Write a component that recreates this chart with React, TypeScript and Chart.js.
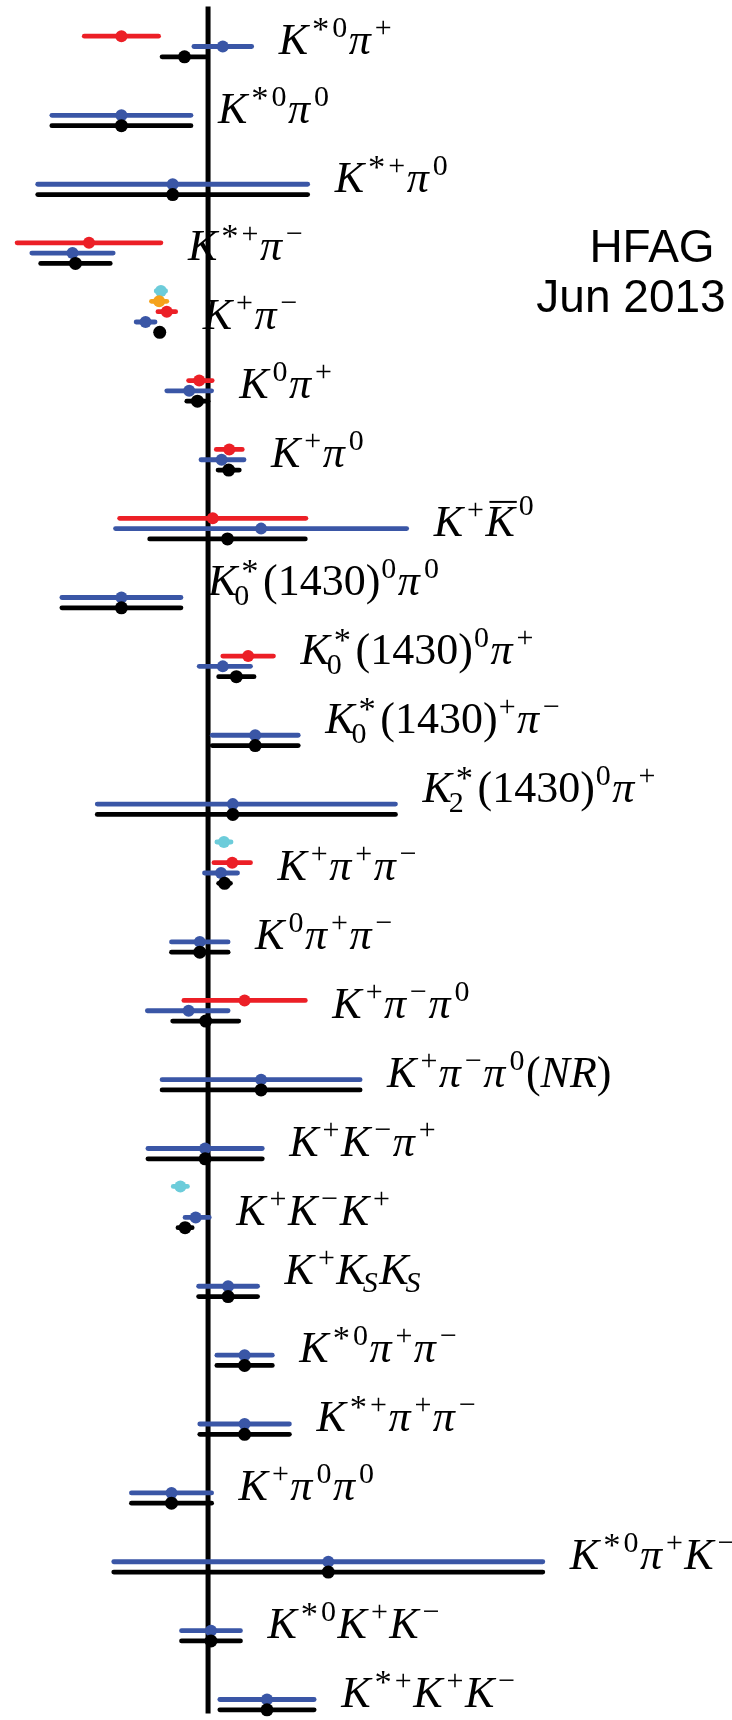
import React, { useEffect, useRef } from "react";
import { Chart, registerables } from "chart.js";

Chart.register(...registerables);

// ---------------- data ----------------
const decayLabels = [
  "K^{*0}π^{+}",
  "K^{*0}π^{0}",
  "K^{*+}π^{0}",
  "K^{*+}π^{-}",
  "K^{+}π^{-}",
  "K^{0}π^{+}",
  "K^{+}π^{0}",
  "K^{+}\\bar{K}^{0}",
  "K_{0}^{*}(1430)^{0}π^{0}",
  "K_{0}^{*}(1430)^{0}π^{+}",
  "K_{0}^{*}(1430)^{+}π^{-}",
  "K_{2}^{*}(1430)^{0}π^{+}",
  "K^{+}π^{+}π^{-}",
  "K^{0}π^{+}π^{-}",
  "K^{+}π^{-}π^{0}",
  "K^{+}π^{-}π^{0}(NR)",
  "K^{+}K^{-}π^{+}",
  "K^{+}K^{-}K^{+}",
  "K^{+}K_{S}K_{S}",
  "K^{*0}π^{+}π^{-}",
  "K^{*+}π^{+}π^{-}",
  "K^{+}π^{0}π^{0}",
  "K^{*0}π^{+}K^{-}",
  "K^{*0}K^{+}K^{-}",
  "K^{*+}K^{+}K^{-}",
];

// HFAG average (black)
const avgValues = [
  -0.040, -0.147, -0.060, -0.225, -0.082, -0.018, 0.035, 0.033, -0.147, 0.048,
  0.080, 0.042, 0.028, -0.014, -0.004, 0.090, -0.005, -0.039, 0.034, 0.062,
  0.062, -0.062, 0.204, 0.005, 0.100,
];
const avgErrLo = [
  0.038, 0.118, 0.229, 0.059, 0.006, 0.018, 0.018, 0.132, 0.101, 0.030,
  0.073, 0.230, 0.010, 0.048, 0.056, 0.168, 0.097, 0.012, 0.050, 0.047,
  0.076, 0.068, 0.364, 0.050, 0.080,
];
const avgErrHi = [
  0.038, 0.118, 0.229, 0.059, 0.006, 0.018, 0.018, 0.132, 0.101, 0.030,
  0.073, 0.276, 0.010, 0.048, 0.056, 0.168, 0.097, 0.012, 0.050, 0.047,
  0.076, 0.068, 0.364, 0.050, 0.080,
];

// BaBar (blue)
const babarValues = [
  0.025, -0.147, -0.060, -0.230, -0.106, -0.032, 0.023, 0.090, -0.147, 0.025,
  0.080, 0.042, 0.022, -0.014, -0.033, 0.090, -0.005, -0.021, 0.034, 0.062,
  0.062, -0.062, 0.204, 0.005, 0.100,
];
const babarErrLo = [
  0.049, 0.118, 0.229, 0.069, 0.016, 0.038, 0.035, 0.247, 0.101, 0.040,
  0.073, 0.230, 0.028, 0.048, 0.070, 0.168, 0.097, 0.018, 0.050, 0.047,
  0.076, 0.068, 0.364, 0.050, 0.080,
];
const babarErrHi = [
  0.049, 0.118, 0.229, 0.069, 0.016, 0.038, 0.038, 0.247, 0.101, 0.047,
  0.073, 0.276, 0.028, 0.048, 0.067, 0.168, 0.097, 0.023, 0.050, 0.047,
  0.076, 0.068, 0.364, 0.050, 0.080,
];

// Belle (red)
const belleValues = [
  -0.147, null, null, -0.202, -0.070, -0.015, 0.036, 0.008, null, 0.068,
  null, null, 0.041, null, 0.062, null, null, null, null, null,
  null, null, null, null, null,
];
const belleErrLo = [
  0.063, null, null, 0.122, 0.015, 0.018, 0.022, 0.158, null, 0.043,
  null, null, 0.031, null, 0.103, null, null, null, null, null,
  null, null, null, null, null,
];
const belleErrHi = [
  0.063, null, null, 0.122, 0.015, 0.022, 0.022, 0.158, null, 0.043,
  null, null, 0.031, null, 0.103, null, null, null, null, null,
  null, null, null, null, null,
];

// CDF (orange)
const cdfValues = [
  null, null, null, null, -0.083, null, null, null, null, null,
  null, null, null, null, null, null, null, null, null, null,
  null, null, null, null, null,
];
const cdfErrLo = [
  null, null, null, null, 0.013, null, null, null, null, null,
  null, null, null, null, null, null, null, null, null, null,
  null, null, null, null, null,
];
const cdfErrHi = cdfErrLo;

// LHCb (cyan)
const lhcbValues = [
  null, null, null, null, -0.080, null, null, null, null, null,
  null, null, 0.027, null, null, null, null, -0.047, null, null,
  null, null, null, null, null,
];
const lhcbErrLo = [
  null, null, null, null, 0.008, null, null, null, null, null,
  null, null, 0.012, null, null, null, null, 0.012, null, null,
  null, null, null, null, null,
];
const lhcbErrHi = lhcbErrLo;

const stampLines = ["HFAG", "Jun 2013"];

// ---------------- styling ----------------
const W = 732;
const H = 1720;
const SLOT = 0.15; // vertical offset between experiments (in row units)

const series = [
  { name: "Average", color: "#000000", slot: 0, radius: 6.5, values: avgValues, lo: avgErrLo, hi: avgErrHi },
  { name: "BaBar", color: "#3A56A6", slot: 1, radius: 6, values: babarValues, lo: babarErrLo, hi: babarErrHi },
  { name: "Belle", color: "#EC1F26", slot: 2, radius: 6, values: belleValues, lo: belleErrLo, hi: belleErrHi },
  { name: "CDF", color: "#F5A21C", slot: 3, radius: 6, values: cdfValues, lo: cdfErrLo, hi: cdfErrHi },
  { name: "LHCb", color: "#6CCCDA", slot: 4, radius: 6, values: lhcbValues, lo: lhcbErrLo, hi: lhcbErrHi },
];

const MAIN = 44;
const SCRIPT = 30;
const SERIF = "'Liberation Serif', 'Times New Roman', serif";

type Atom = { text: string; bar?: boolean; sup?: string; sub?: string };

function parseMath(src: string): Atom[] {
  const atoms: Atom[] = [];
  let i = 0;
  const group = () => {
    const end = src.indexOf("}", i);
    const s = src.slice(i + 1, end);
    i = end + 1;
    return s;
  };
  while (i < src.length) {
    const c = src[i];
    if (c === "^") {
      i++;
      atoms[atoms.length - 1].sup = group();
    } else if (c === "_") {
      i++;
      atoms[atoms.length - 1].sub = group();
    } else if (src.startsWith("\\bar", i)) {
      i += 4;
      atoms.push({ text: group(), bar: true });
    } else {
      atoms.push({ text: c });
      i++;
    }
  }
  return atoms;
}

const isItalic = (ch: string) => /[A-Za-zπ]/.test(ch);

function fontFor(ch: string, size: number) {
  return `${isItalic(ch) ? "italic " : ""}${size}px ${SERIF}`;
}

function drawRun(ctx: CanvasRenderingContext2D, text: string, x: number, y: number, size: number) {
  let cx = x;
  for (const raw of text) {
    const ch = raw === "-" ? "\u2212" : raw;
    if (ch === "*") {
      const s = size * 1.15;
      ctx.font = fontFor(ch, s);
      ctx.fillText(ch, cx, y + size * 0.12);
      cx += ctx.measureText(ch).width + 3;
      continue;
    }
    ctx.font = fontFor(ch, size);
    ctx.fillText(ch, cx, y);
    cx += ctx.measureText(ch).width;
  }
  return cx - x;
}

function drawMath(ctx: CanvasRenderingContext2D, src: string, x: number, baseline: number) {
  const atoms = parseMath(src);
  let cx = x;
  ctx.textBaseline = "alphabetic";
  ctx.textAlign = "left";
  for (const a of atoms) {
    const w = drawRun(ctx, a.text, cx, baseline, MAIN);
    const ital = isItalic(a.text);
    if (a.bar) {
      ctx.save();
      ctx.lineWidth = 2;
      ctx.strokeStyle = "#000";
      ctx.beginPath();
      const top = baseline - MAIN * 0.66 - 5;
      ctx.moveTo(cx + 4, top);
      ctx.lineTo(cx + w + 2, top);
      ctx.stroke();
      ctx.restore();
    }
    const end = cx + w;
    let scriptW = 0;
    if (a.sup) {
      const kern = ital ? 4 : 1;
      const raise = a.bar ? 21 : 17;
      const sw = drawRun(ctx, a.sup, end + kern, baseline - raise, SCRIPT);
      scriptW = Math.max(scriptW, sw + kern);
    }
    if (a.sub) {
      const shift = ital ? -3 : 0;
      const lower = a.sup ? 10 : 8;
      const sw = drawRun(ctx, a.sub, end + shift, baseline + lower, SCRIPT);
      scriptW = Math.max(scriptW, sw + shift);
    }
    if (a.sup || a.sub) scriptW += 1.5;
    cx += w + scriptW;
  }
  return cx - x;
}

const hfagPlugin = {
  id: "hfagDecor",
  beforeDatasetsDraw(chart: any) {
    const { ctx, chartArea } = chart;
    const x0 = chart.scales.x.getPixelForValue(0);
    ctx.save();
    ctx.strokeStyle = "#000";
    ctx.lineWidth = 5;
    ctx.beginPath();
    ctx.moveTo(x0, chartArea.top);
    ctx.lineTo(x0, chartArea.bottom);
    ctx.stroke();
    ctx.restore();
  },
  beforeDatasetDraw(chart: any, args: any) {
    const ds = chart.data.datasets[args.index];
    const xs = chart.scales.x;
    const ys = chart.scales.y;
    const ctx = chart.ctx;
    ctx.save();
    ctx.strokeStyle = ds.borderColor;
    ctx.lineWidth = 4.8;
    ctx.lineCap = "round";
    for (const p of ds.data) {
      const y = ys.getPixelForValue(p.y);
      ctx.beginPath();
      ctx.moveTo(xs.getPixelForValue(p.x - p.lo), y);
      ctx.lineTo(xs.getPixelForValue(p.x + p.hi), y);
      ctx.stroke();
    }
    ctx.restore();
  },
  afterDatasetsDraw(chart: any) {
    const ctx = chart.ctx;
    const xs = chart.scales.x;
    const ys = chart.scales.y;
    ctx.save();
    ctx.fillStyle = "#000";
    decayLabels.forEach((lab, i) => {
      let hi = -Infinity;
      for (const s of series) {
        const v = s.values[i];
        const e = s.hi[i];
        if (v != null && e != null) hi = Math.max(hi, v + e);
      }
      const x = xs.getPixelForValue(hi) + 27;
      const yRow = ys.getPixelForValue(i);
      const baseline = lab.includes("_") ? yRow - 12.5 : yRow - 3;
      drawMath(ctx, lab, x, baseline);
    });
    ctx.font = "46px 'Liberation Sans', Arial, sans-serif";
    ctx.textAlign = "center";
    ctx.textBaseline = "alphabetic";
    ctx.fillText(stampLines[0], 652, 262);
    ctx.fillText(stampLines[1], 631, 312);
    ctx.restore();
  },
};

export default function App() {
  const ref = useRef<HTMLCanvasElement | null>(null);
  useEffect(() => {
    if (!ref.current) return;
    const datasets = series.map((s) => ({
      label: s.name,
      data: s.values
        .map((v, i) =>
          v == null ? null : { x: v, y: i - s.slot * SLOT, lo: s.lo[i] as number, hi: s.hi[i] as number }
        )
        .filter((p) => p !== null),
      borderColor: s.color,
      backgroundColor: s.color,
      pointBackgroundColor: s.color,
      pointBorderWidth: 0,
      pointRadius: s.radius,
      showLine: false,
    }));
    const chart = new Chart(ref.current, {
      type: "scatter",
      data: { datasets } as any,
      options: {
        animation: false,
        responsive: false,
        events: [],
        layout: { padding: 0 },
        plugins: { legend: { display: false }, tooltip: { enabled: false } },
        scales: {
          x: { type: "linear", min: -0.342, max: 0.878, display: false },
          y: { type: "linear", min: -0.7305, max: 24.053, reverse: true, display: false },
        },
        clip: false as any,
      } as any,
      plugins: [hfagPlugin],
    });
    return () => chart.destroy();
  }, []);
  return (
    <div style={{ position: "absolute", left: 0, top: 0, width: W, height: H, background: "#fff" }}>
      <canvas ref={ref} width={W} height={H} style={{ display: "block" }} />
    </div>
  );
}
